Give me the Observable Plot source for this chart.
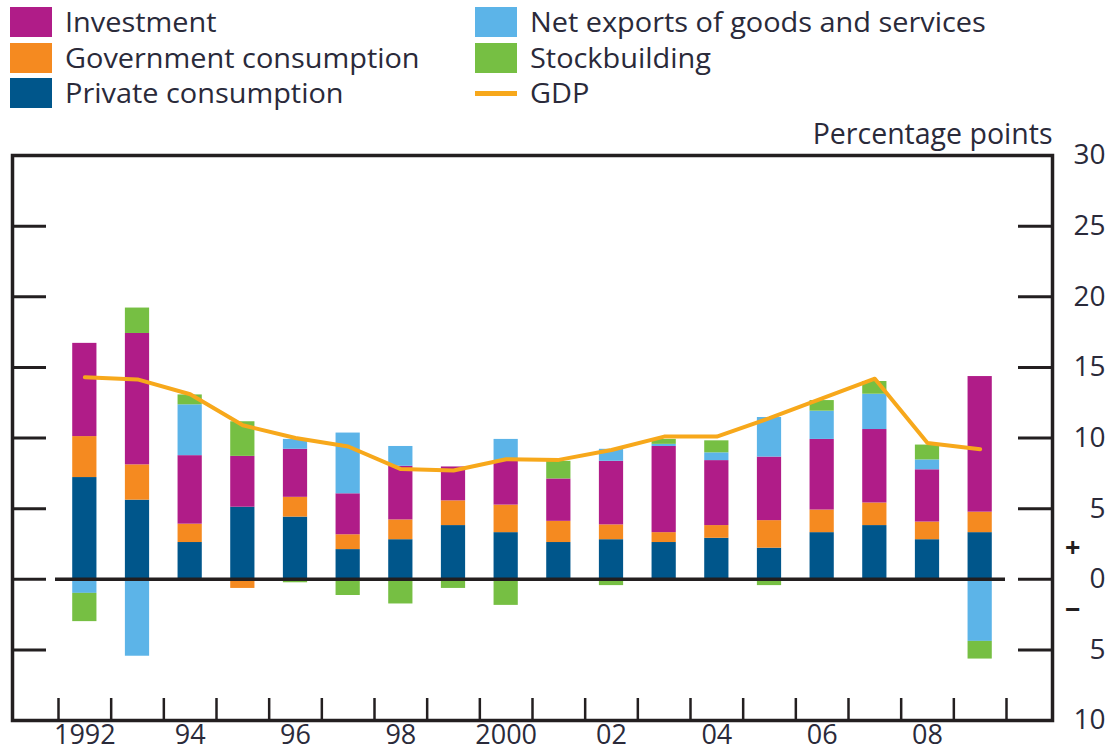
<!DOCTYPE html>
<html><head><meta charset="utf-8">
<script src="https://cdn.jsdelivr.net/npm/d3@7"></script>
<script src="https://cdn.jsdelivr.net/npm/@observablehq/plot@0.6"></script>
<style>
body{margin:0;background:#fff;font-family:"Open Sans",sans-serif;color:#2a2a3a;}
#legend{position:relative;width:1107px;height:112px;}
.item{position:absolute;display:flex;align-items:center;height:30px;font-size:27px;white-space:nowrap;line-height:30px}
.item .tx{display:inline-block;transform:scaleX(1.07);transform-origin:left center}
.sw{width:42px;height:30px;margin-right:13px;flex:none}
.ln{width:42px;height:5px;margin-right:13px;flex:none}
#chart svg{display:block}
</style></head><body>
<div id="legend"></div><div id="chart"></div>
<script>
// ---- data ----
const years = [1992,1993,1994,1995,1996,1997,1998,1999,2000,2001,2002,2003,2004,2005,2006,2007,2008,2009];
const seriesNames = ["Private consumption","Government consumption","Investment","Net exports of goods and services","Stockbuilding"];
const seriesColors = ["#00568B","#F58A20","#B01C88","#5CB4E8","#76BF43"];
const privateConsumption = [7.2,5.6,2.6,5.1,4.4,2.1,2.8,3.8,3.3,2.6,2.8,2.6,2.9,2.2,3.3,3.8,2.8,3.3];
const governmentConsumption = [2.9,2.5,1.3,-0.65,1.4,1.05,1.4,1.75,1.95,1.5,1.05,0.7,0.9,1.95,1.6,1.6,1.25,1.45];
const investment = [6.6,9.3,4.85,3.6,3.4,2.9,3.8,2.4,3.1,3.0,4.5,6.1,4.6,4.5,5.0,5.2,3.7,9.6];
const netExports = [-1.0,-5.45,3.6,0,0.7,4.3,1.4,0,1.55,0,0.85,0.15,0.55,2.8,2.0,2.5,0.7,-4.4];
const stockbuilding = [-2.0,1.8,0.7,2.45,-0.25,-1.15,-1.75,-0.65,-1.85,1.25,-0.45,0.35,0.85,-0.45,0.75,0.9,1.05,-1.25];
const gdp = [14.3,14.15,13.1,10.9,10.0,9.4,7.8,7.7,8.5,8.45,9.15,10.1,10.1,11.4,12.8,14.2,9.65,9.2];
const yTickValues = [30,25,20,15,10,5,0,-5,-10];
const xLabelYears = [1992,1994,1996,1998,2000,2002,2004,2006,2008];
const xLabelText = ["1992","94","96","98","2000","02","04","06","08"];

// ---- legend ----
const legendItems = [
  {label:"Investment", color:"#B01C88", kind:"sw"},
  {label:"Government consumption", color:"#F58A20", kind:"sw"},
  {label:"Private consumption", color:"#00568B", kind:"sw"},
  {label:"Net exports of goods and services", color:"#5CB4E8", kind:"sw"},
  {label:"Stockbuilding", color:"#76BF43", kind:"sw"},
  {label:"GDP", color:"#F7A81B", kind:"ln"}
];
const colLeft = [10, 475], rowTop = [7, 43, 78];
const lg = document.getElementById("legend");
legendItems.forEach((it, i) => {
  const d = document.createElement("div");
  d.className = "item";
  d.style.left = colLeft[Math.floor(i/3)] + "px";
  d.style.top = rowTop[i%3] + "px";
  const s = document.createElement("span");
  s.className = it.kind; s.style.background = it.color;
  const t = document.createElement("span"); t.className = "tx"; t.textContent = it.label;
  d.append(s, t); lg.append(d);
});

// ---- chart ----
const series = [privateConsumption, governmentConsumption, investment, netExports, stockbuilding];
const rows = [];
years.forEach((yr, i) => series.forEach((arr, j) => rows.push({year: yr, series: seriesNames[j], value: arr[i]})));
const gdpRows = years.map((yr, i) => ({year: yr, value: gdp[i]}));

const W = 1107, H = 642, mL = 12, mR = 55, mT = 43, mB = 34;
const xRange = [58, 1006];
const step = (xRange[1] - xRange[0]) / years.length;
const frameW = W - mL - mR, frameH = H - mT - mB;
const ink = "#231f20", txt = "#2a2a3a";
const innerTicks = yTickValues.filter(v => v > -10 && v < 30);

const chart = Plot.plot({
  width: W, height: H, marginLeft: mL, marginRight: mR, marginTop: mT, marginBottom: mB,
  style: {fontFamily: "'Open Sans', sans-serif", fontSize: "27px", color: txt, background: "#fff", overflow: "visible"},
  x: {type: "band", domain: years, range: xRange, paddingInner: 0.54, paddingOuter: 0.27, round: false, axis: null},
  y: {domain: [-10, 30], axis: null},
  color: {domain: seriesNames, range: seriesColors},
  marks: [
    Plot.barY(rows, {x: "year", y: "value", fill: "series", order: seriesNames}),
    Plot.ruleY([0], {stroke: ink, strokeWidth: 3.5, insetLeft: 43, insetRight: 47}),
    Plot.line(gdpRows, {x: "year", y: "value", stroke: "#F7A81B", strokeWidth: 4}),
    Plot.ruleY(innerTicks, {stroke: ink, strokeWidth: 3, insetRight: frameW - 34}),
    Plot.ruleY(innerTicks, {stroke: ink, strokeWidth: 3, insetLeft: frameW - 34}),
    Plot.ruleX(years, {x: d => d, dx: -step / 2, stroke: ink, strokeWidth: 2.5, insetTop: frameH - 22}),
    Plot.ruleX([years[years.length - 1]], {x: d => d, dx: step / 2, stroke: ink, strokeWidth: 2.5, insetTop: frameH - 22}),
    Plot.frame({stroke: ink, strokeWidth: 3.5}),
    Plot.text(yTickValues, {y: d => d, text: d => String(Math.abs(d)), frameAnchor: "right", dx: 53, textAnchor: "end", lineAnchor: "middle", fontSize: 28, fill: txt}),
    Plot.text([{s: "+", v: 2.2}, {s: "\u2212", v: -2.2}], {y: "v", text: "s", frameAnchor: "right", dx: 28, lineAnchor: "middle", fill: ink, fontWeight: "bold"}),
    Plot.text(xLabelYears, {x: d => d, text: (d, i) => xLabelText[i], frameAnchor: "bottom", dy: 15, lineAnchor: "middle", fill: txt}),
    Plot.text(["Percentage points"], {frameAnchor: "top-right", dy: -21, textAnchor: "end", lineAnchor: "middle", fontSize: 28.5, fill: txt})
  ]
});
document.getElementById("chart").append(chart);
</script>
</body></html>
